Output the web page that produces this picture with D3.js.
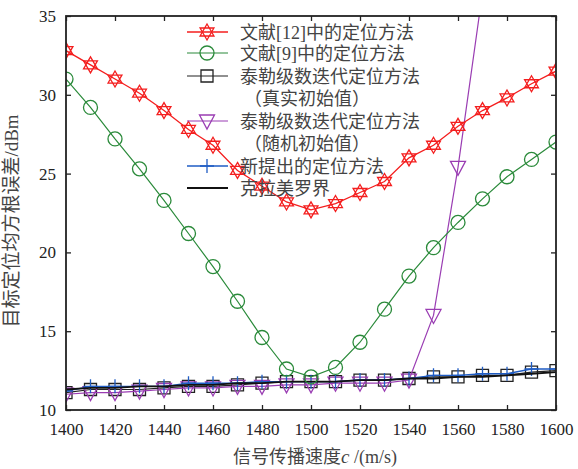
<!DOCTYPE html>
<html>
<head>
<meta charset="utf-8">
<script src="https://cdn.jsdelivr.net/npm/d3@7"></script>
<style>
  body { margin: 0; background: #fff; }
  text { font-family: "Liberation Serif", "Noto Sans CJK SC", serif; }
</style>
</head>
<body>
<div id="chart"></div>
<script>
// speed of signal (m/s)
var speeds = [1400,1410,1420,1430,1440,1450,1460,1470,1480,1490,1500,1510,1520,1530,1540,1550,1560,1570,1580,1590,1600];
var ref12 = [32.8,31.9,31.0,30.1,29.0,27.8,26.8,25.2,24.2,23.2,22.7,23.1,23.8,24.5,26.0,26.8,28.0,29.0,29.8,30.7,31.5];
var ref9 = [31.0,29.2,27.2,25.3,23.3,21.2,19.1,16.9,14.6,12.6,12.1,12.7,14.3,16.4,18.5,20.3,21.9,23.4,24.8,25.9,27.0];
var taylorTrue = [11.1,11.3,11.3,11.3,11.4,11.5,11.5,11.6,11.7,11.8,11.8,11.8,11.9,11.9,12.0,12.1,12.1,12.2,12.2,12.4,12.5];
var taylorRand = [11.0,11.1,11.1,11.2,11.3,11.4,11.4,11.5,11.5,11.6,11.6,11.7,11.7,11.7,11.9,16.0,25.4,36.5];
var proposed = [11.2,11.5,11.5,11.5,11.5,11.7,11.7,11.7,11.8,11.8,11.8,11.8,11.9,11.9,12.0,12.2,12.2,12.3,12.3,12.6,12.6];
var crb = [11.3,11.4,11.4,11.5,11.5,11.6,11.6,11.7,11.7,11.8,11.8,11.8,11.9,11.9,12.0,12.0,12.1,12.1,12.2,12.3,12.4];
var xTicks = [1400,1420,1440,1460,1480,1500,1520,1540,1560,1580,1600];
var yTicks = [10,15,20,25,30,35];
var legendLabels = ["文献[12]中的定位方法","文献[9]中的定位方法","泰勒级数迭代定位方法","（真实初始值）","泰勒级数迭代定位方法","（随机初始值）","新提出的定位方法","克拉美罗界"];

var W = 578, H = 469;
var margin = {top: 16, right: 22, bottom: 59, left: 66};
var width = W - margin.left - margin.right,
    height = H - margin.top - margin.bottom;
var serif = "'Liberation Serif','Times New Roman','DejaVu Serif',serif";

var svg = d3.select("#chart").append("svg")
  .attr("width", W).attr("height", H);

var g = svg.append("g")
  .attr("transform", "translate(" + margin.left + "," + margin.top + ")");

var x = d3.scaleLinear().domain([1400,1600]).range([0,width]);
var y = d3.scaleLinear().domain([10,35]).range([height,0]);

svg.append("defs").append("clipPath").attr("id","clip")
  .append("rect").attr("width", width).attr("height", height);

// markers
var hexagram = function(r) {
  var p1 = [], p2 = [];
  for (var k = 0; k < 3; k++) {
    var a1 = -Math.PI/2 + k*2*Math.PI/3, a2 = Math.PI/2 + k*2*Math.PI/3;
    p1.push([r*Math.cos(a1), r*Math.sin(a1)]);
    p2.push([r*Math.cos(a2), r*Math.sin(a2)]);
  }
  return "M" + p1.join("L") + "Z M" + p2.join("L") + "Z";
};
var markers = {
  star: function(){ return hexagram(8); },
  circle: function(){ return "M7,0A7,7 0 1,1 -7,0A7,7 0 1,1 7,0Z"; },
  square: function(){ return "M-6,-6H6V6H-6Z"; },
  tri: function(){ return "M-7.5,-6H7.5L0,8Z"; },
  plus: function(){ return "M-7,0H7M0,-7V7"; },
  none: function(){ return ""; }
};

var series = [
  {values: taylorTrue, color: "#222", marker: "square", lw: 1.2},
  {values: taylorRand, color: "#9a3db3", marker: "tri", lw: 1.2},
  {values: proposed, color: "#1f5cc4", marker: "plus", lw: 1.4},
  {values: crb, color: "#111", marker: "none", lw: 1.8},
  {values: ref9, color: "#2a8a3a", marker: "circle", lw: 1.2},
  {values: ref12, color: "#f41e1e", marker: "star", lw: 1.3}
];

var line = d3.line().x(function(d){ return x(d[0]); }).y(function(d){ return y(d[1]); });
var plot = g.append("g").attr("clip-path","url(#clip)");

series.forEach(function(s) {
  var pts = s.values.map(function(v,i){ return [speeds[i], v]; });
  plot.append("path").attr("d", line(pts))
    .attr("fill","none").attr("stroke", s.color).attr("stroke-width", s.lw);
  if (s.marker !== "none") {
    plot.selectAll(null).data(pts).enter().append("path")
      .attr("transform", function(d){ return "translate(" + x(d[0]) + "," + y(d[1]) + ")"; })
      .attr("d", markers[s.marker]())
      .attr("fill","none").attr("stroke", s.color).attr("stroke-width", 1.3);
  }
});

// axes with inward ticks
var axStyle = function(sel) {
  sel.attr("font-family", serif).attr("font-size", 17);
  sel.select(".domain").remove();
  sel.selectAll("line").attr("stroke","#222").attr("stroke-width",1.3);
  sel.selectAll("text").attr("fill","#222").attr("font-family", serif).style("font-size","17px");
};
g.append("g").attr("transform","translate(0," + height + ")")
  .call(d3.axisBottom(x).tickValues(xTicks).tickSizeInner(-5).tickPadding(13).tickFormat(d3.format("d")))
  .call(axStyle);
g.append("g")
  .call(d3.axisTop(x).tickValues(xTicks).tickSizeInner(-5).tickFormat(""))
  .call(axStyle);
g.append("g")
  .call(d3.axisLeft(y).tickValues(yTicks).tickSizeInner(-5).tickPadding(10))
  .call(axStyle);
g.append("g").attr("transform","translate(" + width + ",0)")
  .call(d3.axisRight(y).tickValues(yTicks).tickSizeInner(-5).tickFormat(""))
  .call(axStyle);

g.append("rect").attr("width", width).attr("height", height)
  .attr("fill","none").attr("stroke","#222").attr("stroke-width",1.8);

// legend
var legendRows = [
  {y: 32, s: series[5], text: legendLabels[0]},
  {y: 53, s: series[4], text: legendLabels[1]},
  {y: 76, s: series[0], text: legendLabels[2]},
  {y: 98, s: null, text: legendLabels[3]},
  {y: 121, s: series[1], text: legendLabels[4]},
  {y: 143, s: null, text: legendLabels[5]},
  {y: 166, s: series[2], text: legendLabels[6]},
  {y: 188, s: series[3], text: legendLabels[7]}
];
var leg = svg.append("g");
legendRows.forEach(function(r) {
  if (r.s) {
    leg.append("line").attr("x1",187).attr("x2",228).attr("y1",r.y).attr("y2",r.y)
      .attr("stroke", r.s.color).attr("stroke-width", r.s.lw);
    leg.append("path").attr("transform","translate(207," + r.y + ")")
      .attr("d", markers[r.s.marker]())
      .attr("fill","none").attr("stroke", r.s.color).attr("stroke-width",1.3);
  }
  leg.append("text").attr("x", r.s ? 240 : 244).attr("y", r.y + 6.5)
    .attr("fill","#444").attr("font-family", serif + ",'Noto Sans CJK SC'")
    .style("font-size","18px")
    .text(r.text);
});

// axis titles
var xt = svg.append("text").attr("x", 315).attr("y", 463).attr("text-anchor","middle")
  .attr("fill","#444").attr("font-family", serif).style("font-size","18px");
xt.append("tspan").attr("font-family","'Noto Sans CJK SC'").text("信号传播速度");
xt.append("tspan").style("font-style","italic").style("font-size","19px").text("c");
xt.append("tspan").text(" /(m/s)");

svg.append("text").attr("transform","translate(18,221) rotate(-90)")
  .attr("text-anchor","middle").attr("fill","#444")
  .attr("font-family", serif + ",'Noto Sans CJK SC'").style("font-size","19px")
  .text("目标定位均方根误差/dBm");
</script>
</body>
</html>
